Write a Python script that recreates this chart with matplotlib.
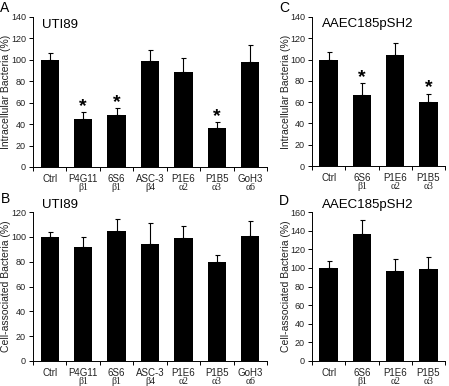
import numpy as np
import matplotlib
matplotlib.use('Agg')
import matplotlib.pyplot as plt
import matplotlib.transforms as mtransforms

# the source figure is squeezed sideways, so a narrow face fits its horizontal text best
matplotlib.rcParams['font.family'] = ['Liberation Sans Narrow', 'Liberation Sans', 'DejaVu Sans']

# panel A / B: UTI89
uti_names = ['Ctrl', 'P4G11', '6S6', 'ASC-3', 'P1E6', 'P1B5', 'GoH3']
uti_sub = ['', 'β1', 'β1', 'β4', 'α2', 'α3', 'α6']
uti_intra = [100, 45, 49, 99, 89, 36, 98]
uti_intra_err = [6, 6, 6, 10, 13, 6, 16]
uti_intra_sig = [False, True, True, False, False, True, False]
uti_assoc = [100, 92, 105, 94, 99, 80, 101]
uti_assoc_err = [4, 8, 9, 17, 10, 5, 12]

# panel C / D: AAEC185pSH2
aaec_names = ['Ctrl', '6S6', 'P1E6', 'P1B5']
aaec_sub = ['', 'β1', 'α2', 'α3']
aaec_intra = [100, 67, 104, 60]
aaec_intra_err = [7, 11, 12, 8]
aaec_intra_sig = [False, True, False, True]
aaec_assoc = [100, 136, 97, 99]
aaec_assoc_err = [7, 15, 12, 13]

W, H = 449, 386
fig = plt.figure(figsize=(W/100, H/100), dpi=100)

def box(l, t, r, b):
    return [l/W, 1-b/H, (r-l)/W, (b-t)/H]

def panel(rect, names, subs, vals, errs, ymax, step, ylabel, ylab_x, title, title_x, title_y, sig=None):
    ax = fig.add_axes(rect)
    n = len(names)
    x = np.arange(n)
    ax.bar(x, vals, width=0.55, color='black', zorder=2)
    ax.errorbar(x, vals, yerr=[np.zeros(n), errs], fmt='none', ecolor='black',
                elinewidth=0.8, capsize=1.8, capthick=0.8, zorder=3)
    ax.set_xlim(-0.5, n - 0.5)
    ax.set_ylim(0, ymax)
    ax.set_yticks(np.arange(0, ymax + 1, step))
    ax.set_xticks(np.arange(n + 1) - 0.5)
    ax.set_xticklabels([])
    ax.tick_params(axis='y', direction='out', length=3, width=0.7, labelsize=6.5, pad=2, labelcolor='#222222')
    ax.tick_params(axis='x', direction='out', length=3, width=0.7)
    for s in ['top', 'right']:
        ax.spines[s].set_visible(False)
    for s in ['left', 'bottom']:
        ax.spines[s].set_linewidth(0.7)
    ax.set_ylabel(ylabel, fontsize=7.5, color='#222222', family=['Liberation Sans', 'DejaVu Sans'])
    ax.yaxis.set_label_coords(ylab_x, 0.5)
    tr = mtransforms.blended_transform_factory(ax.transData, ax.transAxes)
    for i in range(n):
        ax.annotate(names[i], (x[i], 0), xycoords=tr, xytext=(0, -8.3), textcoords='offset points',
                    ha='center', va='center', fontsize=7, color='#222222')
        if subs[i]:
            ax.annotate(subs[i], (x[i], 0), xycoords=tr, xytext=(0, -14.8), textcoords='offset points',
                        ha='center', va='center', fontsize=7,
                        family=['Liberation Serif', 'DejaVu Serif'], color='#222222')
        if sig is not None and sig[i]:
            ax.annotate('*', (x[i], vals[i] + errs[i]), xytext=(0, -2), textcoords='offset points',
                        ha='center', va='bottom', fontsize=14, fontweight='bold',
                        family=['Liberation Sans', 'DejaVu Sans'])
    ax.text(title_x, title_y, title, transform=ax.transAxes, ha='left', va='center', fontsize=9.5)
    return ax

panel(box(33, 17, 267, 167), uti_names, uti_sub, uti_intra, uti_intra_err, 140, 20,
      'Intracellular Bacteria (%)', -0.096, 'UTI89', 0.04, 0.95, uti_intra_sig)
panel(box(312, 17, 445, 166), aaec_names, aaec_sub, aaec_intra, aaec_intra_err, 140, 20,
      'Intracellular Bacteria (%)', -0.155, 'AAEC185pSH2', 0.075, 0.95, aaec_intra_sig)
panel(box(33, 212, 267, 361), uti_names, uti_sub, uti_assoc, uti_assoc_err, 120, 20,
      'Cell-associated Bacteria (%)', -0.096, 'UTI89', 0.04, 1.05)
panel(box(312, 212, 445, 361), aaec_names, aaec_sub, aaec_assoc, aaec_assoc_err, 160, 20,
      'Cell-associated Bacteria (%)', -0.155, 'AAEC185pSH2', 0.075, 1.05)

for lab, px, py in [('A', 5, 8), ('B', 5, 199), ('C', 284, 8), ('D', 284, 201)]:
    fig.text(px/W, 1-py/H, lab, fontsize=10, ha='center', va='center')

fig.savefig('out.png', dpi=100)
